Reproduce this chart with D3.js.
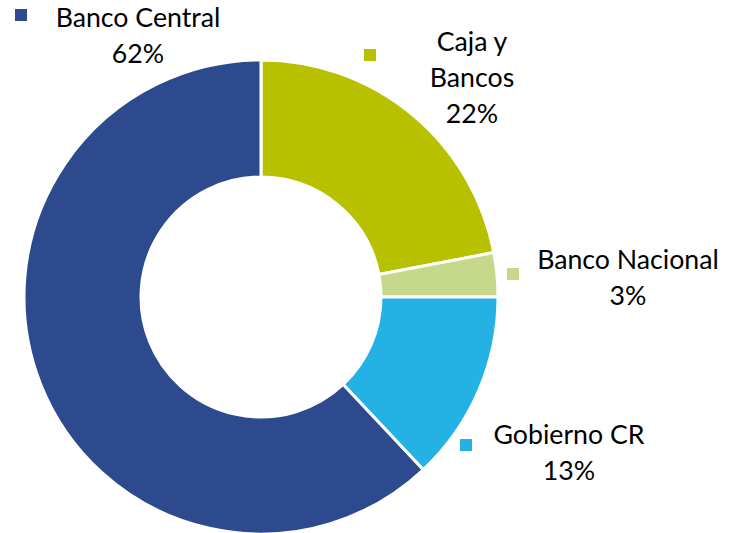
<!DOCTYPE html>
<html>
<head>
<meta charset="utf-8">
<script src="https://cdn.jsdelivr.net/npm/d3@7"></script>
<style>
  body { margin: 0; background: #fff; }
  svg text { font-family: Lato, "Open Sans", sans-serif; fill: #000; }
</style>
</head>
<body>
<svg id="chart"></svg>
<script>
// chart size
var width = 734, height = 533;

// data, clockwise from 12 o'clock
var categories = ["Caja y Bancos", "Banco Nacional", "Gobierno CR", "Banco Central"];
var shares = [22, 3, 13, 62];
var colors = ["#b8c100", "#c6d88b", "#23b2e3", "#2e4a8f"];

// label text lines (the percent is added from shares)
var labelLines = [["Caja y", "Bancos"], ["Banco Nacional"], ["Gobierno CR"], ["Banco Central"]];

// layout of each label: centre x, first baseline y, marker x/y
var labelLayout = [
  {x: 472, y: 51, mx: 364, my: 49},
  {x: 628, y: 269, mx: 507, my: 268},
  {x: 569, y: 444, mx: 460, my: 439},
  {x: 138, y: 27, mx: 15, my: 9}
];
var lineStep = 36;

var cx = 261, cy = 297;
var outerR = 237, innerR = 120;

var svg = d3.select("#chart")
    .attr("width", width)
    .attr("height", height);

var pie = d3.pie().sort(null).value(function(d) { return d; });
var arc = d3.arc().innerRadius(innerR).outerRadius(outerR);

var g = svg.append("g")
    .attr("transform", "translate(" + cx + "," + cy + ")");

g.selectAll("path")
  .data(pie(shares))
  .enter()
  .append("path")
  .attr("d", arc)
  .attr("fill", function(d, i) { return colors[i]; })
  .attr("stroke", "#fff")
  .attr("stroke-width", 3);

// labels with small square markers
categories.forEach(function(c, i) {
    var pos = labelLayout[i];
    svg.append("rect")
      .attr("x", pos.mx)
      .attr("y", pos.my)
      .attr("width", 12)
      .attr("height", 12)
      .attr("fill", colors[i]);
    var lines = labelLines[i].concat([shares[i] + "%"]);
    var t = svg.append("text")
      .attr("text-anchor", "middle")
      .style("font-size", "26.7px");
    lines.forEach(function(l, j) {
        t.append("tspan")
          .attr("x", pos.x)
          .attr("y", pos.y + j * lineStep)
          .text(l);
    });
});
</script>
</body>
</html>
